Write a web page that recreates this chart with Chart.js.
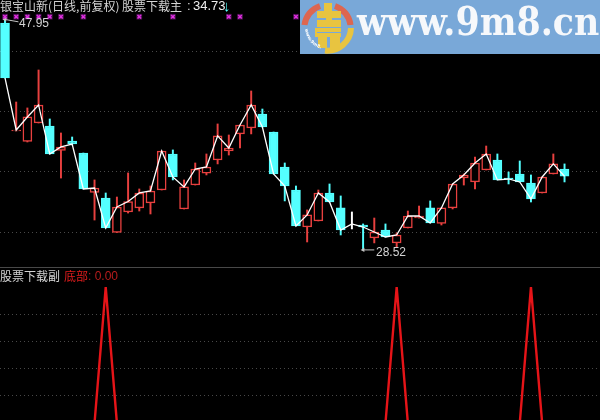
<!DOCTYPE html>
<html>
<head>
<meta charset="utf-8">
<title>股票下载</title>
<script src="https://cdn.jsdelivr.net/npm/chart.js@4"></script>
<style>
    html, body { margin: 0; padding: 0; background: #000; }
    #stage { position: relative; width: 600px; height: 420px; overflow: hidden; background: #000; font-family: 'Noto Sans CJK SC', sans-serif; }
    canvas { position: absolute; left: 0; display: block; }
    #chart-main { top: 0; }
    #chart-sub { top: 267px; }
    #divider { position: absolute; left: 0; top: 267px; width: 600px; height: 1px; background: #484848; }
    .label { position: absolute; white-space: nowrap; font-size: 12px; line-height: 14px; color: #d4d4d4; }
    .num { font-family: 'Liberation Sans', sans-serif; }
    #banner { position: absolute; left: 300px; top: 0; width: 300px; height: 54px; background: #79a8d8; overflow: hidden; }
    #banner svg { position: absolute; left: 0; top: 0; }
    #banner-text { position: absolute; left: 57px; top: -4px; font: bold 40px/50px 'DejaVu Serif', serif; color: #f6f8fb; white-space: nowrap; transform: scaleX(0.87); transform-origin: left top; }
</style>
</head>
<body>
<div id="stage">
    <canvas id="chart-main" width="600" height="267"></canvas>
    <canvas id="chart-sub" width="600" height="153"></canvas>
    <div id="divider"></div>

    <div class="label" style="left:0;top:-1px">银宝山新(日线,前复权)</div>
    <div class="label" style="left:122px;top:-1px">股票下载主</div>
    <div class="label num" style="left:187px;top:-1px;font-size:13px">:</div>
    <div class="label num" style="left:193px;top:-1px;font-size:13px;color:#efefef">34.73</div>
    <div class="label num" style="left:223px;top:-1px;font-size:15px;color:#54ffff;font-weight:bold">↓</div>

    <div class="label num" style="left:19px;top:16px;font-size:12px">47.95</div>
    <div class="label num" style="left:376px;top:245px;font-size:12px">28.52</div>

    <div class="label" style="left:0;top:269px">股票下载副</div>
    <div class="label" style="left:64px;top:269px;color:#e01c1c">底部</div>
    <div class="label num" style="left:88px;top:269px;color:#b81c1c;font-size:12px">: 0.00</div>

    <div id="banner">
        <svg width="62" height="54" viewBox="0 0 62 54">
            <path d="M4.5 25 A23 23 0 0 1 20 6" fill="none" stroke="#dd6650" stroke-width="6"/>
            <path d="M35 6 A23 23 0 0 1 50.5 25" fill="none" stroke="#dd6650" stroke-width="6"/>
            <path d="M51 28 A23.500 23.500 0 0 1 25 50.500" fill="none" stroke="#e8c440" stroke-width="6"/>
            <rect x="24" y="3" width="8" height="8" fill="#e8c440"/>
            <rect x="17" y="11" width="24" height="16" fill="#e8c440"/>
            <rect x="15" y="28" width="26" height="9" fill="#e8c440"/>
            <rect x="18" y="37" width="9" height="11" fill="#e8c440"/>
            <rect x="30" y="37" width="10" height="11" fill="#e8c440"/>
            <rect x="17" y="18" width="9" height="2" fill="#79a8d8"/>
            <rect x="32" y="18" width="9" height="2" fill="#79a8d8"/>
            <rect x="17" y="32" width="24" height="1" fill="#79a8d8"/>
            <path id="banner-arc" d="M5 29 A23 23 0 0 0 22 49" fill="none"/>
            <text font-family="DejaVu Sans" font-size="4.500" font-weight="bold" fill="#ffffff"><textPath href="#banner-arc">www.9m8.cn</textPath></text>
        </svg>
        <div id="banner-text">www.9m8.cn</div>
    </div>
</div>

<script>
/* =========================================
   DATA (one entry per trading day)
   ========================================= */
const days = [...Array(51).keys()];

const opens = [47.65, 38.55, 37.66, 39.22, 38.97, 36.90, 37.70, 36.69, 33.36, 32.90,
    29.99, 31.72, 32.06, 32.48, 33.57, 36.61, 31.97, 33.99, 35.00, 36.10,
    36.86, 38.30, 38.80, 39.98, 38.46, 35.51, 33.57, 30.45, 30.96, 33.32,
    32.06, 30.71, 30.62, 29.53, 30.20, 29.11, 30.37, 31.21, 32.06, 30.75,
    32.06, 34.58, 34.25, 35.26, 36.10, 34.58, 34.92, 34.16, 33.32, 34.92, 35.34];
const closes = [43.02, 38.63, 39.73, 40.74, 36.61, 37.20, 37.45, 33.66, 33.74, 30.37,
    32.14, 32.60, 33.32, 33.49, 36.86, 34.67, 33.83, 35.34, 35.51, 38.13,
    37.11, 39.05, 40.74, 38.88, 34.92, 33.91, 30.54, 31.47, 33.32, 32.56,
    30.20, 30.71, 30.45, 30.03, 29.61, 29.78, 31.38, 31.38, 30.79, 32.06,
    34.08, 34.84, 35.85, 36.61, 34.42, 34.50, 34.25, 32.82, 34.67, 35.77, 34.73];
const highs = [47.95, 40.99, 40.49, 43.69, 39.56, 38.38, 38.04, 36.69, 34.42, 33.32,
    32.98, 35.01, 33.66, 33.91, 36.86, 36.95, 34.42, 35.85, 36.61, 39.14,
    38.21, 39.05, 41.92, 40.40, 38.46, 35.85, 33.91, 31.89, 33.57, 34.08,
    33.07, 31.72, 30.71, 31.21, 30.71, 29.95, 31.80, 32.22, 32.65, 32.06,
    34.08, 34.92, 36.35, 37.28, 36.61, 35.09, 36.02, 34.84, 34.67, 36.61, 35.77];
const lows = [43.02, 38.55, 37.62, 39.22, 36.61, 34.58, 37.37, 33.66, 31.04, 30.37,
    29.99, 31.63, 31.80, 31.55, 33.57, 34.42, 31.97, 33.99, 34.84, 35.77,
    36.52, 37.11, 38.30, 38.88, 34.92, 32.65, 30.54, 29.19, 30.96, 32.56,
    29.78, 30.29, 28.52, 29.11, 29.61, 28.77, 30.37, 31.21, 30.79, 30.62,
    31.97, 33.99, 33.66, 35.26, 34.42, 34.08, 34.25, 32.56, 33.32, 34.92, 34.25];

// days carrying the magenta marker of the main indicator, and its price level
const markerDays = [0, 1, 2, 3, 4, 5, 7, 12, 15, 20, 21, 26];
const markerLevel = 48.18;

// note arrows for the highest and lowest price
const highNote = [[0, 47.95], [1.2, 47.75]];
const lowNote = [[32, 28.52], [33, 28.52]];

const mainGrid = [45.21, 40.15, 35.09, 29.99];

// sub indicator: 底部
const bottomSignal = [0, 0, 0, 0, 0, 0, 0, 0, 0, 1,
    0, 0, 0, 0, 0, 0, 0, 0, 0, 0,
    0, 0, 0, 0, 0, 0, 0, 0, 0, 0,
    0, 0, 0, 0, 0, 1, 0, 0, 0, 0,
    0, 0, 0, 0, 0, 0, 0, 1, 0, 0, 0];
const subGrid = [0.2, 0.4, 0.6, 0.8];

/* =========================================
   SHARED CONFIG
   ========================================= */
const RED = '#e8403f';
const CYAN = '#54ffff';
const xScale = { type: 'linear', display: false, offset: false, min: -0.447, max: 53.17 };

function yScale(min, max, gridValues) {
    return {
        min,
        max,
        afterBuildTicks: axis => { axis.ticks = gridValues.map(value => ({ value })); },
        ticks: { display: false },
        border: { display: false, dash: [1, 3] },
        grid: { color: '#484848', drawTicks: false }
    };
}

const baseOptions = {
    responsive: false,
    animation: false,
    devicePixelRatio: 1,
    events: [],
    layout: { padding: 0, autoPadding: false },
    plugins: { legend: { display: false }, tooltip: { enabled: false } }
};

function candleColor(i) {
    if (opens[i] === closes[i]) return '#ffffff';
    return closes[i] > opens[i] ? RED : CYAN;
}

function noteDataset(points) {
    return {
        type: 'line',
        data: points.map(([x, y]) => ({ x, y })),
        borderColor: '#c4c4c4',
        borderWidth: 1,
        pointStyle: 'triangle',
        pointRotation: 270,
        pointRadius: ctx => (ctx.dataIndex === 0 ? 2.5 : 0),
        pointBackgroundColor: '#c4c4c4',
        pointBorderWidth: 0,
        order: 1
    };
}

/* =========================================
   CHART: MAIN PANEL
   ========================================= */
new Chart(document.getElementById('chart-main'), {
    type: 'bar',
    data: {
        datasets: [
            {
                type: 'line',
                data: days.map(i => ({ x: i, y: closes[i] })),
                borderColor: '#ffffff',
                borderWidth: 1.3,
                pointRadius: 0,
                tension: 0,
                order: 1
            },
            {
                type: 'line',
                data: markerDays.map(i => ({ x: i, y: markerLevel })),
                showLine: false,
                pointStyle: 'crossRot',
                pointRadius: 2.5,
                pointBorderWidth: 1.6,
                pointBorderColor: '#e030e0',
                order: 1
            },
            {
                type: 'line',
                data: markerDays.map(i => ({ x: i, y: markerLevel })),
                showLine: false,
                pointStyle: 'rect',
                pointRadius: 4,
                pointBorderWidth: 0,
                pointBackgroundColor: '#4a1050',
                order: 1.5
            },
            noteDataset(highNote),
            noteDataset(lowNote),
            {
                data: days.map(i => ({ x: i, y: [opens[i], closes[i]] })),
                grouped: false,
                barThickness: 9,
                borderWidth: 1.5,
                borderSkipped: false,
                borderColor: ctx => candleColor(ctx.dataIndex),
                backgroundColor: ctx => (candleColor(ctx.dataIndex) === CYAN ? CYAN : '#000000'),
                order: 2
            },
            {
                data: days.map(i => ({ x: i, y: [lows[i], highs[i]] })),
                grouped: false,
                barThickness: 1.3,
                backgroundColor: ctx => candleColor(ctx.dataIndex),
                order: 3
            }
        ]
    },
    options: {
        ...baseOptions,
        scales: { x: xScale, y: yScale(27.08, 49.59, mainGrid) }
    }
});

/* =========================================
   CHART: SUB PANEL
   ========================================= */
new Chart(document.getElementById('chart-sub'), {
    type: 'line',
    data: {
        datasets: [{
            data: days.map(i => ({ x: i, y: bottomSignal[i] })),
            borderColor: '#e61418',
            borderWidth: 2.4,
            pointRadius: 0,
            tension: 0
        }]
    },
    options: {
        ...baseOptions,
        scales: { x: xScale, y: yScale(0.022, 1.147, subGrid) }
    }
});
</script>
</body>
</html>
